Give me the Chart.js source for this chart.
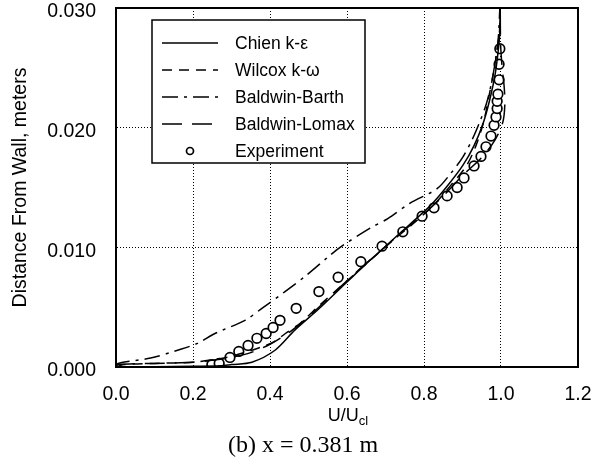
<!DOCTYPE html>
<html>
<head>
<meta charset="utf-8">
<script src="https://cdn.jsdelivr.net/npm/chart.js@4"></script>
<style>
  body { margin: 0; background: #fff; }
  #wrap { position: relative; width: 602px; height: 471px; }
  #xtitle {
    position: absolute; left: 0; width: 696px; top: 405px;
    text-align: center; font: 18px "Liberation Sans", Arial, sans-serif; color: #000;
  }
  #xtitle sub { font-size: 13px; vertical-align: -4px; }
  #caption {
    position: absolute; left: 0; width: 606px; top: 431px;
    text-align: center; font: 24px "Liberation Serif", "Times New Roman", serif; color: #000;
  }
</style>
</head>
<body>
<div id="wrap">
  <canvas id="profile-chart" width="602" height="471"></canvas>
  <div id="xtitle">U/U<sub>cl</sub></div>
  <div id="caption">(b) x = 0.381 m</div>
</div>
<script>
  // Velocity profile data (U/Ucl vs distance from wall)
  const chienU = [0, 0.1, 0.2, 0.27, 0.3, 0.353, 0.413, 0.465, 0.525, 0.6, 0.652, 0.694, 0.738, 0.78, 0.82, 0.86, 0.9, 0.93, 0.955, 0.972, 0.985, 0.993, 0.997, 0.998];
  const chienY = [0, 0.00003, 0.00006, 0.0001, 0.0002, 0.0004, 0.0014, 0.0031, 0.0048, 0.0071, 0.0087, 0.0099, 0.0112, 0.0124, 0.0136, 0.0151, 0.0168, 0.0185, 0.0205, 0.0225, 0.0245, 0.0265, 0.028, 0.030];

  const wilcoxU = [0, 0.02, 0.1, 0.2, 0.25, 0.3, 0.353, 0.38, 0.41, 0.44, 0.48, 0.53, 0.6, 0.66, 0.72, 0.78, 0.83, 0.87, 0.91, 0.935, 0.955, 0.968, 0.98, 0.99, 0.996, 0.998];
  const wilcoxY = [0, 0.0002, 0.0003, 0.0004, 0.0006, 0.0009, 0.0014, 0.0017, 0.0021, 0.0028, 0.0037, 0.0052, 0.0072, 0.0089, 0.0106, 0.0122, 0.0137, 0.0152, 0.0168, 0.0185, 0.0205, 0.0225, 0.0245, 0.0265, 0.028, 0.030];

  const barthU = [0, 0.005, 0.09, 0.17, 0.213, 0.257, 0.335, 0.379, 0.439, 0.496, 0.551, 0.582, 0.66, 0.706, 0.764, 0.834, 0.87, 0.9, 0.925, 0.945, 0.962, 0.975, 0.985, 0.993, 0.997];
  const barthY = [0, 0.0003, 0.00075, 0.0015, 0.002, 0.0028, 0.0039, 0.0049, 0.0063, 0.0077, 0.0092, 0.010, 0.0116, 0.0124, 0.0137, 0.0149, 0.0162, 0.0175, 0.019, 0.0205, 0.022, 0.0237, 0.0255, 0.0275, 0.030];

  const lomaxU = [0, 0.005, 0.1, 0.2, 0.26, 0.3, 0.35, 0.4, 0.45, 0.5, 0.56, 0.62, 0.68, 0.74, 0.8, 0.85, 0.9, 0.95, 0.985, 1.005, 1.01, 1.008, 1.003, 0.999, 0.998];
  const lomaxY = [0, 0.0002, 0.0003, 0.0004, 0.0006, 0.0008, 0.0012, 0.0019, 0.0029, 0.0042, 0.006, 0.0078, 0.0095, 0.0112, 0.0128, 0.0143, 0.016, 0.0175, 0.019, 0.0205, 0.022, 0.0235, 0.025, 0.027, 0.030];

  const expU = [0.249, 0.268, 0.296, 0.319, 0.343, 0.366, 0.390, 0.408, 0.426, 0.468, 0.527, 0.577, 0.636, 0.691, 0.745, 0.795, 0.826, 0.860, 0.886, 0.904, 0.930, 0.948, 0.961, 0.974, 0.982, 0.987, 0.990, 0.990, 0.992, 0.995, 0.995, 0.997];
  const expY = [0.0002, 0.0003, 0.0008, 0.0013, 0.0018, 0.0024, 0.0028, 0.0033, 0.0039, 0.0049, 0.0063, 0.0075, 0.0088, 0.0101, 0.0113, 0.0126, 0.0133, 0.0143, 0.0150, 0.0158, 0.0168, 0.0176, 0.0184, 0.0193, 0.0202, 0.0209, 0.0216, 0.0222, 0.0228, 0.0240, 0.0253, 0.0266];

  const seriesNames = ['Chien k-ε', 'Wilcox k-ω', 'Baldwin-Barth', 'Baldwin-Lomax', 'Experiment'];

  function toPoints(xs, ys) {
    return xs.map((x, i) => ({ x: x, y: ys[i] }));
  }

  function lineSet(label, xs, ys, dash) {
    return {
      label: label,
      data: toPoints(xs, ys),
      showLine: true,
      borderColor: '#000',
      borderWidth: 1.5,
      borderDash: dash,
      pointRadius: 0,
      tension: 0.3,
      fill: false
    };
  }

  const datasets = [
    lineSet(seriesNames[0], chienU, chienY, []),
    lineSet(seriesNames[1], wilcoxU, wilcoxY, [10, 7]),
    lineSet(seriesNames[2], barthU, barthY, [16, 6, 3, 6]),
    lineSet(seriesNames[3], lomaxU, lomaxY, [20, 10]),
    {
      label: seriesNames[4],
      data: toPoints(expU, expY),
      showLine: false,
      pointStyle: 'circle',
      pointRadius: 4.8,
      pointBorderWidth: 1.7,
      pointBorderColor: '#000',
      pointBackgroundColor: '#fff'
    }
  ];

  // Solid frame around the plot plus the boxed legend inside it
  const frameAndLegend = {
    id: 'frameAndLegend',
    afterDraw(chart) {
      const ctx = chart.ctx;
      const a = chart.chartArea;
      ctx.save();
      ctx.strokeStyle = '#000';
      ctx.lineWidth = 2;
      ctx.strokeRect(a.left, a.top, a.right - a.left, a.bottom - a.top);

      const bx = 152, by = 20, bw = 213, bh = 143;
      ctx.fillStyle = '#fff';
      ctx.fillRect(bx, by, bw, bh);
      ctx.lineWidth = 1.5;
      ctx.strokeRect(bx, by, bw, bh);
      ctx.font = '17.5px "Liberation Sans", Arial, sans-serif';
      ctx.textBaseline = 'middle';
      chart.data.datasets.forEach((ds, i) => {
        const y = by + 23 + i * 27;
        if (ds.showLine) {
          ctx.setLineDash(ds.borderDash);
          ctx.lineWidth = 1.5;
          ctx.beginPath();
          ctx.moveTo(162, y);
          ctx.lineTo(218, y);
          ctx.stroke();
          ctx.setLineDash([]);
        } else {
          ctx.lineWidth = 1.7;
          ctx.beginPath();
          ctx.arc(190, y, 3.5, 0, Math.PI * 2);
          ctx.stroke();
        }
        ctx.fillStyle = '#000';
        ctx.fillText(ds.label, 235, y + 1);
      });
      ctx.restore();
    }
  };

  const tickFont = { family: '"Liberation Sans", Arial, sans-serif', size: 19.5 };

  new Chart(document.getElementById('profile-chart'), {
    type: 'scatter',
    data: { datasets: datasets },
    plugins: [frameAndLegend],
    options: {
      responsive: false,
      animation: false,
      devicePixelRatio: 1,
      layout: { padding: { top: 8, right: 24, left: 0, bottom: 0 } },
      plugins: {
        legend: { display: false },
        tooltip: { enabled: false }
      },
      scales: {
        x: {
          type: 'linear',
          min: 0,
          max: 1.2,
          // fixed axis band; drop the label overhang so the plot edges stay put
          afterFit: s => { s.height = 104; s.paddingLeft = 0; s.paddingRight = 0; },
          ticks: {
            stepSize: 0.2,
            color: '#000',
            font: tickFont,
            padding: 16,
            callback: v => v.toFixed(1)
          },
          grid: {
            color: '#000',
            lineWidth: 1,
            drawTicks: false
          },
          border: { display: true, color: '#000', width: 2, dash: [1, 2] }
        },
        y: {
          type: 'linear',
          min: 0,
          max: 0.03,
          afterFit: s => { s.width = 116; s.paddingTop = 0; s.paddingBottom = 0; },
          ticks: {
            stepSize: 0.01,
            color: '#000',
            font: tickFont,
            padding: 20,
            labelOffset: 4,
            callback: v => v.toFixed(3)
          },
          grid: {
            color: '#000',
            lineWidth: 1,
            drawTicks: false
          },
          border: { display: true, color: '#000', width: 2, dash: [1, 2] },
          title: {
            display: true,
            text: 'Distance From Wall, meters',
            color: '#000',
            font: { family: '"Liberation Sans", Arial, sans-serif', size: 19.5 },
            padding: { top: 9, bottom: 0 }
          }
        }
      }
    }
  });
</script>
</body>
</html>
